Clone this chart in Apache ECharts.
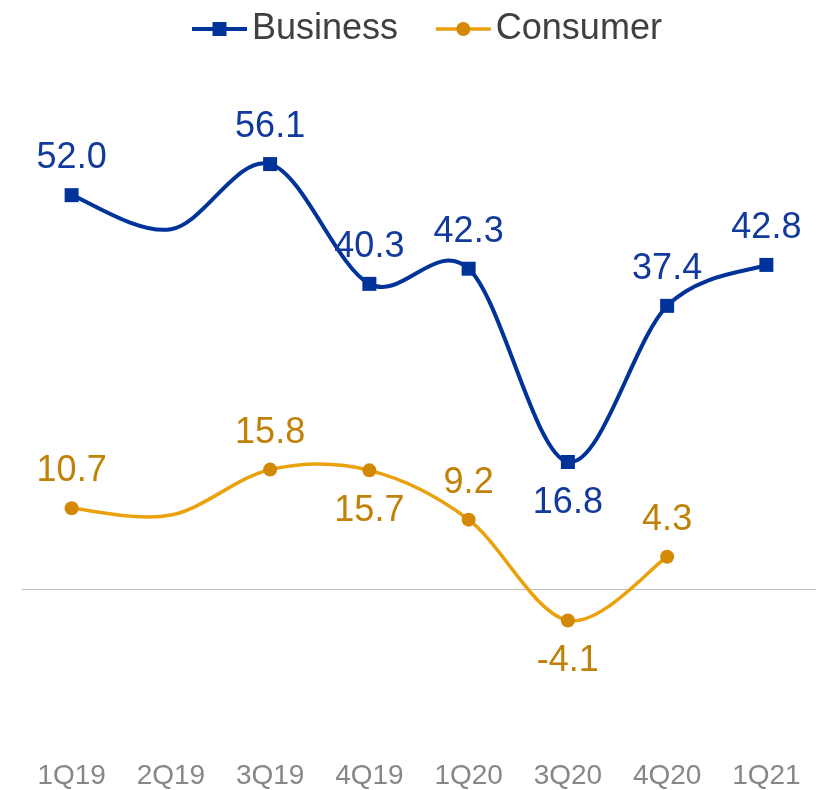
<!DOCTYPE html>
<html>
<head>
<meta charset="utf-8">
<script src="https://cdn.jsdelivr.net/npm/echarts@6/dist/echarts.min.js"></script>
<style>
  html, body { margin: 0; padding: 0; background: #ffffff; }
  #chart { width: 825px; height: 790px; }
</style>
</head>
<body>
<div id="chart"></div>
<script>
// Quarterly growth by segment
const quarters = ['1Q19', '2Q19', '3Q19', '4Q19', '1Q20', '3Q20', '4Q20', '1Q21'];
const businessValues = [52.0, 47.5, 56.1, 40.3, 42.3, 16.8, 37.4, 42.8];
const consumerValues = [10.7, 9.8, 15.8, 15.7, 9.2, -4.1, 4.3, null];
// Which points carry a marker/label and where the label sits
const businessLabelPos = ['top', null, 'top', 'top', 'top', 'bottom', 'top', 'top'];
const consumerLabelPos = ['top', null, 'top', 'bottom', 'top', 'bottom', 'top', null];

const FONT = '"Liberation Sans", Arial, sans-serif';
const BUSINESS_LINE = '#003399';
const CONSUMER_LINE = '#eba10c';

function buildPoints(values, positions, labelColor) {
  return values.map((v, i) => {
    if (v === null) return '-';
    const pos = positions[i];
    if (!pos) {
      return { value: v, symbol: 'none', label: { show: false } };
    }
    return {
      value: v,
      label: {
        show: true,
        position: pos,
        distance: pos === 'top' ? 12 : 16,
        color: labelColor,
        fontSize: 36,
        fontFamily: FONT,
        formatter: p => Number(p.value).toFixed(1)
      }
    };
  });
}

// Cardinal (Catmull-Rom style) spline through the points, built in pixel space
// from the axis scales, so the curve bends gently past each point.
function splineRenderer(values, color, width) {
  return function (params, api) {
    const pts = [];
    values.forEach((v, i) => {
      if (v !== null) pts.push(api.coord([i, v]));
    });
    if (pts.length < 2) return null;
    let d = 'M' + pts[0][0] + ' ' + pts[0][1];
    for (let i = 0; i < pts.length - 1; i++) {
      const p0 = pts[Math.max(i - 1, 0)];
      const p1 = pts[i];
      const p2 = pts[i + 1];
      const p3 = pts[Math.min(i + 2, pts.length - 1)];
      const c1x = p1[0] + (p2[0] - p0[0]) / 6;
      const c1y = p1[1] + (p2[1] - p0[1]) / 6;
      const c2x = p2[0] - (p3[0] - p1[0]) / 6;
      const c2y = p2[1] - (p3[1] - p1[1]) / 6;
      d += ' C' + c1x + ' ' + c1y + ' ' + c2x + ' ' + c2y + ' ' + p2[0] + ' ' + p2[1];
    }
    return {
      type: 'path',
      shape: { pathData: d },
      style: { fill: 'none', stroke: color, lineWidth: width, lineJoin: 'round', lineCap: 'round' }
    };
  };
}

const chart = echarts.init(document.getElementById('chart'), null, { renderer: 'canvas' });

chart.setOption({
  animation: false,
  backgroundColor: '#ffffff',
  textStyle: { fontFamily: FONT },
  legend: {
    left: 185,
    top: 6,
    itemWidth: 55,
    itemHeight: 17.5,
    itemGap: 36,
    textStyle: { fontSize: 36, color: '#404040', fontFamily: FONT },
    data: [
      { name: 'Business', lineStyle: { color: BUSINESS_LINE, width: 4, opacity: 1 } },
      { name: 'Consumer', lineStyle: { color: CONSUMER_LINE, width: 3.5, opacity: 1 } }
    ]
  },
  grid: { left: 22, right: 9, top: 133, bottom: 49, containLabel: false },
  xAxis: {
    type: 'category',
    data: quarters,
    boundaryGap: true,
    axisLine: { show: false, onZero: false },
    axisTick: { show: false },
    axisLabel: { color: '#878787', fontSize: 28, fontFamily: FONT, margin: 21, interval: 0 },
    splitLine: { show: false }
  },
  yAxis: {
    type: 'value',
    min: -20,
    max: 60.2,
    show: false
  },
  series: [
    {
      name: 'Business curve',
      type: 'custom',
      coordinateSystem: 'cartesian2d',
      renderItem: splineRenderer(businessValues, BUSINESS_LINE, 4),
      data: [[0, 0]],
      encode: { x: 0, y: 1 },
      clip: false,
      silent: true,
      z: 2
    },
    {
      name: 'Consumer curve',
      type: 'custom',
      coordinateSystem: 'cartesian2d',
      renderItem: splineRenderer(consumerValues, CONSUMER_LINE, 3.5),
      data: [[0, 0]],
      encode: { x: 0, y: 1 },
      clip: false,
      silent: true,
      z: 2
    },
    {
      name: 'Business',
      type: 'line',
      symbol: 'rect',
      symbolSize: 14,
      lineStyle: { color: BUSINESS_LINE, width: 4, opacity: 0 },
      itemStyle: { color: BUSINESS_LINE },
      data: buildPoints(businessValues, businessLabelPos, '#12399c'),
      z: 3,
      markLine: {
        silent: true,
        symbol: 'none',
        label: { show: false },
        lineStyle: { color: '#bdbdbd', width: 1, type: 'solid' },
        data: [{ yAxis: 0 }],
        z: 1
      }
    },
    {
      name: 'Consumer',
      type: 'line',
      symbol: 'circle',
      symbolSize: 14,
      lineStyle: { color: CONSUMER_LINE, width: 3.5, opacity: 0 },
      itemStyle: { color: '#d38806' },
      data: buildPoints(consumerValues, consumerLabelPos, '#c08108'),
      z: 3
    }
  ]
});
</script>
</body>
</html>
